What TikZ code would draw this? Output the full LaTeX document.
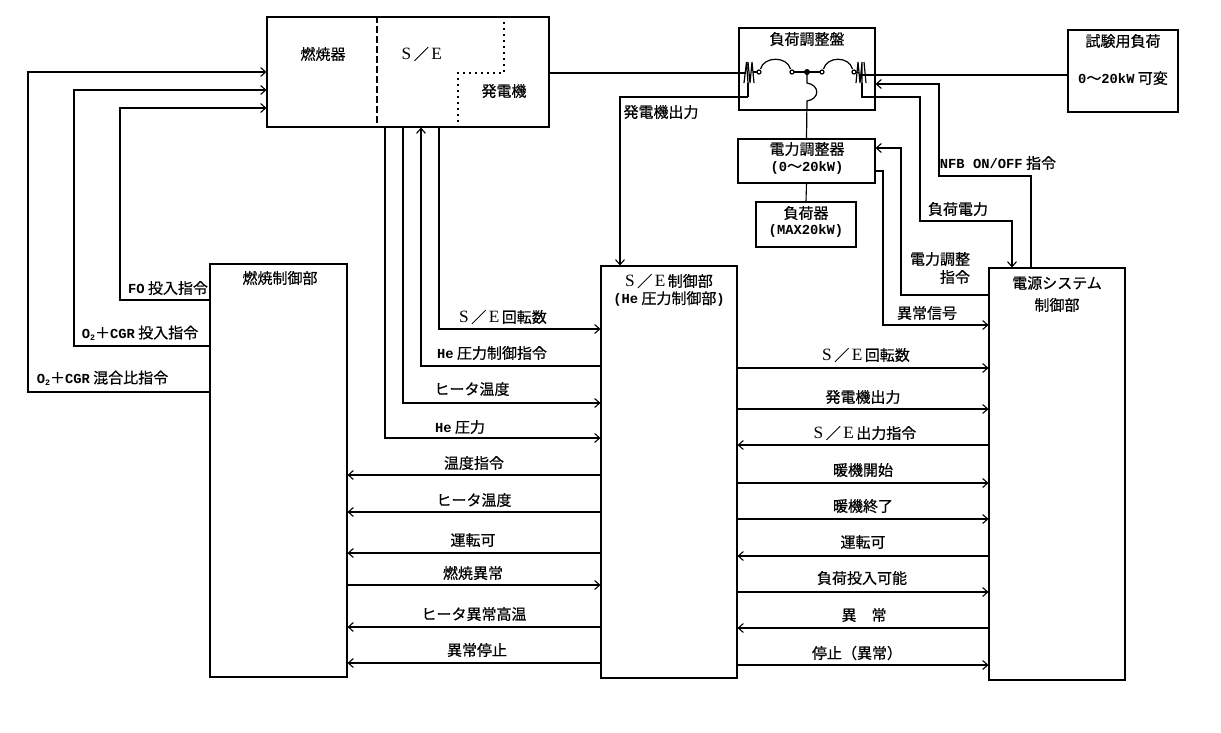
\documentclass[tikz,border=0pt]{standalone}
\usepackage{fontspec}
\setmainfont{Noto Sans CJK JP}[FakeBold=0.6]
\newfontfamily\latinfont{Liberation Mono}[Scale=0.92]
\newfontfamily\sefont{Liberation Serif}[Scale=1.15]
\usepackage{tikz}
\usetikzlibrary{arrows.meta}
\tikzset{>={Straight Barb[length=5pt,width=9pt]}}
\tikzset{
  blk/.style={draw,line width=1.1pt,inner sep=0pt},
  txt/.style={inner sep=0pt,font=\fontsize{15}{17}\selectfont},
  wire/.style={line width=1.1pt}
}
\newcommand{\lat}[1]{{\latinfont\bfseries #1}}
\newcommand{\otwo}{\lat{O}\raisebox{-2pt}{\fontsize{9}{9}\selectfont\lat{2}}}
\newcommand{\sepair}{{\sefont S}\,／\,{\sefont E}\,}

\begin{document}
\begin{tikzpicture}[x=1pt,y=-1pt]
  \useasboundingbox (0,0) rectangle (1221,732);
  % main blocks
  \node[blk,minimum width=282pt,minimum height=110pt] (burner) at (408,72) {};
  \node[blk,minimum width=136pt,minimum height=82pt] (panel) at (807,69) {};
  \node[blk,minimum width=110pt,minimum height=82pt] (testload) at (1123,71) {};
  \node[blk,minimum width=137pt,minimum height=44pt] (regulator) at (806.5,161) {};
  \node[blk,minimum width=100pt,minimum height=45pt] (loader) at (806,224.5) {};
  \node[blk,minimum width=137pt,minimum height=413pt] (burnctl) at (278.5,470.5) {};
  \node[blk,minimum width=136pt,minimum height=412pt] (sectl) at (669,472) {};
  \node[blk,minimum width=136pt,minimum height=412pt] (powerctl) at (1057,474) {};
  % partitions inside the engine block
  \draw[line width=1.2pt,dash pattern=on 7pt off 3pt] (burner.north -| 377,0) -- (burner.south -| 377,0);
  \draw[line width=1.3pt,dash pattern=on 2pt off 4pt] (burner.north -| 504,0) -- (504,73) -- (458,73) -- (burner.south -| 458,0);
  % block captions
  \node[txt] (burnertxt) at (323,54) {燃焼器};
  \node[txt] (setxt) at (423,54) {\sepair};
  \node[txt] (gentxt) at (504,91) {発電機};
  \node[txt] (paneltxt) at (807,39) {負荷調整盤};
  \node[txt] (testtxt) at (1123,41) {試験用負荷};
  \node[txt] (rangetxt) at (1123,78) {\lat{0}～\lat{20kW} 可変};
  \node[txt] (regtxt) at (807,149) {電力調整器};
  \node[txt] (regrange) at (807,168) {\lat{(0}～\lat{20kW)}};
  \node[txt] (loadtxt) at (806,213) {負荷器};
  \node[txt] (loadmax) at (806,231) {\lat{(MAX20kW)}};
  \node[txt] (burnctltxt) at (280,278) {燃焼制御部};
  \node[txt] (sectltxt) at (669,281) {\sepair 制御部};
  \node[txt] (sectlsub) at (669,299) {\lat{(He} 圧力制御部\lat{)}};
  \node[txt] (powertxt) at (1057,283) {電源システム};
  \node[txt] (powersub) at (1057,305) {制御部};
  % fuel commands into the burner
  \begin{scope}[wire,->]
    \draw (burnctl.west |- 0,300) -- (120,300) -- (120,108) -- (burner.west |- 0,108);
    \draw (burnctl.west |- 0,346) -- (74,346) -- (74,90) -- (burner.west |- 0,90);
    \draw (burnctl.west |- 0,392) -- (28,392) -- (28,72) -- (burner.west |- 0,72);
  \end{scope}
  \node[txt] (fotxt) at (168,288) {\lat{FO} 投入指令};
  \node[txt] (cgrtxt) at (140,333) {\otwo＋\lat{CGR} 投入指令};
  \node[txt] (mixtxt) at (102.5,378) {\otwo＋\lat{CGR} 混合比指令};
  % signals between engine and its controller
  \coordinate (brkL) at (748,97);
  \coordinate (brkR) at (862,97);
  \begin{scope}[wire,->]
    \draw (burner.south -| 439,0) -- (439,329) -- (sectl.west |- 0,329);
    \draw (sectl.west |- 0,366) -- (421,366) -- (burner.south -| 421,0);
    \draw (burner.south -| 403,0) -- (403,403) -- (sectl.west |- 0,403);
    \draw (burner.south -| 385,0) -- (385,438) -- (sectl.west |- 0,438);
    \draw (brkL) -- (620,97) -- (sectl.north -| 620,0);
  \end{scope}
  \node[txt] (revtxt) at (503,317) {\sepair 回転数};
  \node[txt] (hectltxt) at (492,353) {\lat{He} 圧力制御指令};
  \node[txt] (heattxt) at (472,389) {ヒータ温度};
  \node[txt] (hetxt) at (460,427) {\lat{He} 圧力};
  \node[txt] (outtxt) at (661,112) {発電機出力};
  % burner controller <-> engine controller
  \foreach \n/\y/\lx/\ly/\lbl in {a/475/474/463/温度指令,b/512/474/500/ヒータ温度,c/553/473/540/運転可,e/627/474/614/ヒータ異常高温,f/663/477/650/異常停止}{
    \draw[wire,->] (sectl.west |- 0,\y) -- (burnctl.east |- 0,\y);
    \node[txt] (bs\n) at (\lx,\ly) {\lbl};
  }
  \draw[wire,->] (burnctl.east |- 0,585) -- (sectl.west |- 0,585);
  \node[txt] (bsd) at (473,573) {燃焼異常};
  % engine controller <-> power system controller
  \foreach \n/\y/\lx/\ly/\lbl in {a/368/866/355/{\sepair 回転数},b/409/863/397/発電機出力,d/483/863/470/暖機開始,e/519/863/506/暖機終了,g/592/862/578/負荷投入可能,i/665/857/653/停止（異常）}{
    \draw[wire,->] (sectl.east |- 0,\y) -- (powerctl.west |- 0,\y);
    \node[txt] (sp\n) at (\lx,\ly) {\lbl};
  }
  \foreach \n/\y/\lx/\ly/\lbl in {c/445/865/433/{\sepair 出力指令},f/556/863/542/運転可,h/628/864/615/異　常}{
    \draw[wire,->] (powerctl.west |- 0,\y) -- (sectl.east |- 0,\y);
    \node[txt] (sp\n) at (\lx,\ly) {\lbl};
  }
  % power lines
  \draw[wire] (burner.east |- 0,73) -- (746,73);
  \draw[wire] (testload.west |- 0,75) -- (862,75);
  \draw[wire] (brkL) -- (748,83);
  \draw[wire] (regulator.south) -- (loader.north);
  % breakers and switches of the load panel
  \begin{scope}[line width=1.2pt]
    \draw (753,72) -- (757,72);
    \draw (760.5,69) .. controls (764,56) and (787,56) .. (790.5,69);
    \draw (794,72) -- (820,72);
    \draw (823.5,69) .. controls (827,56) and (849,56) .. (852.5,69);
    \draw (856,72) -- (859,73);
    \fill (807,72) circle (3pt);
    \draw (759,72) circle (2pt) (792,72) circle (2pt) (822,72) circle (2pt) (854,72) circle (2pt);
    \draw (807,72) -- (807,83) .. controls (820,85) and (820,99) .. (807,101) -- (regulator.north);
    \draw (744,83) -- (746.5,62) -- (748,83) (748,62) -- (750,83) -- (752,62) -- (754,83);
    \draw (856,83) -- (858,62) -- (860,83) -- (862,62) -- (862,83) (864,62) -- (866,83);
  \end{scope}
  % load panel, regulator and power system controller
  \begin{scope}[wire,->]
    \draw (862,83) -- (brkR) -- (920,97) -- (920,221) -- (1012,221) -- (powerctl.north -| 1012,0);
    \draw (powerctl.north -| 1031,0) -- (1031,176) -- (939,176) -- (939,84) -- (panel.east |- 0,84);
    \draw (powerctl.west |- 0,295) -- (901,295) -- (901,148) -- (regulator.east |- 0,148);
    \draw (regulator.east |- 0,171) -- (883,171) -- (883,325) -- (powerctl.west |- 0,325);
  \end{scope}
  \node[txt] (nfbtxt) at (998,163) {\lat{NFB ON/OFF} 指令};
  \node[txt] (loadpw) at (958,209) {負荷電力};
  \node[txt] (adjtxt) at (940,259) {電力調整};
  \node[txt] (adjcmd) at (955,277) {指令};
  \node[txt] (faulttxt) at (927,313) {異常信号};
\end{tikzpicture}
\end{document}
